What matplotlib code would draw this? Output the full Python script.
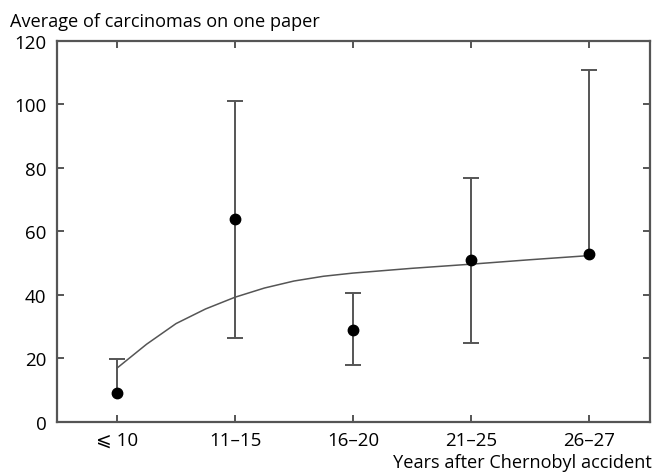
import matplotlib.pyplot as plt

plt.rcParams['font.family'] = ['Open Sans', 'DejaVu Sans']

# data
categories = ['\u2a7d 10', '11\u201315', '16\u201320', '21\u201325', '26\u201327']
means = [9.1, 63.8, 29.1, 51.0, 52.9]
upper = [19.8, 101.0, 40.5, 76.9, 111.0]
lower = [None, 26.5, 18.0, 24.8, None]   # None = no lower whisker drawn

# fitted curve, sampled at category positions
curve_x = [0, 0.25, 0.5, 0.75, 1, 1.25, 1.5, 1.75, 2, 2.5, 3, 3.5, 4]
curve_y = [17.0, 24.5, 31.0, 35.6, 39.3, 42.2, 44.4, 45.9, 46.9, 48.4, 49.7, 51.1, 52.4]

yticks = [0, 20, 40, 60, 80, 100, 120]

grey = '#555555'

fig = plt.figure(figsize=(6.72, 4.77), dpi=100)
ax = fig.add_axes([0.0848, 0.1132, 0.8825, 0.7988])

ax.plot(curve_x, curve_y, color=grey, lw=1.1, zorder=2)

for i, (m, up, lo) in enumerate(zip(means, upper, lower)):
    low_err = 0 if lo is None else m - lo
    _, caps, _ = ax.errorbar([i], [m], yerr=[[low_err], [up - m]], fmt='none',
                             ecolor=grey, elinewidth=1.4, capsize=5.8,
                             capthick=1.4, zorder=3)
    if lo is None:
        caps[0].set_visible(False)

ax.plot(range(len(means)), means, 'o', color='black', markersize=7.5, zorder=4)

ax.set_xlim(-0.51, 4.52)
ax.set_ylim(0, 120)
ax.set_xticks(range(len(categories)))
ax.set_xticklabels(categories)
ax.set_yticks(yticks)

ax.tick_params(direction='in', top=True, right=True, length=5, width=1.4,
               color=grey, labelsize=13.5, labelcolor='black')
ax.tick_params(axis='y', pad=7.5)
ax.tick_params(axis='x', pad=6.5)
for s in ax.spines.values():
    s.set_color(grey)
    s.set_linewidth(1.6)

fig.text(0.015, 0.943, 'Average of carcinomas on one paper', fontsize=13.1,
         ha='left', va='baseline')
fig.text(0.97, 0.019, 'Years after Chernobyl accident', fontsize=13.1,
         ha='right', va='baseline')

fig.savefig('out.png', dpi=100)
